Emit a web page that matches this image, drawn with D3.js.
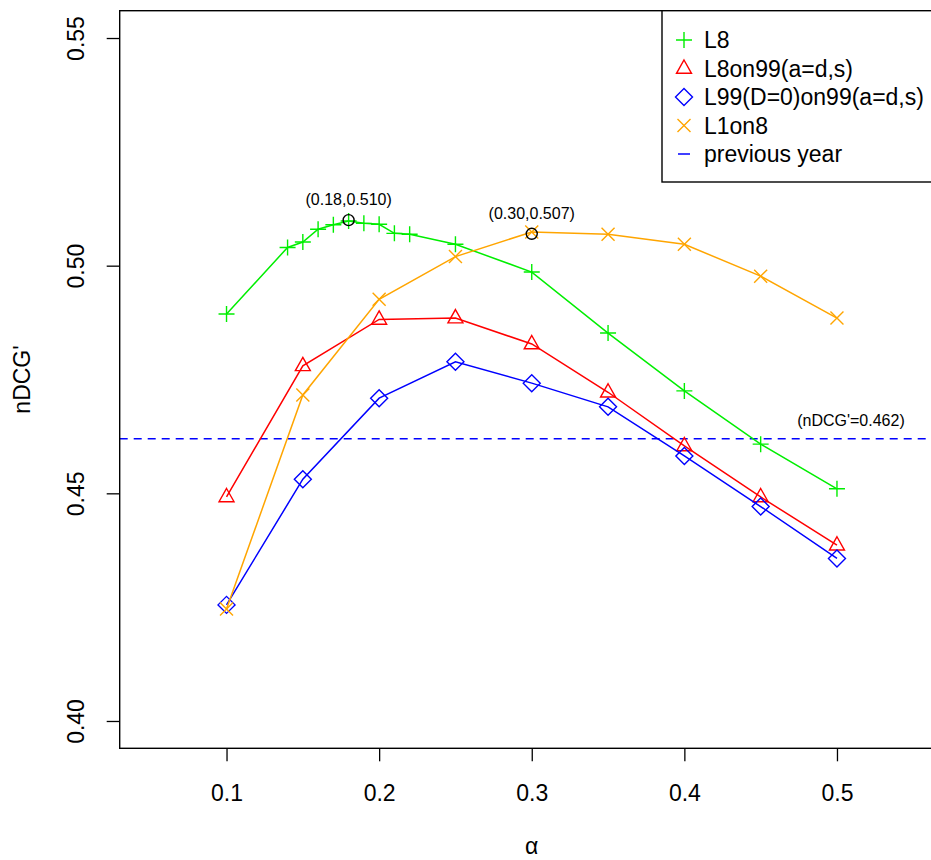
<!DOCTYPE html>
<html>
<head>
<meta charset="utf-8">
<script src="https://cdn.jsdelivr.net/npm/d3@7"></script>
<style>
  body { margin: 0; background: #fff; }
  svg { display: block; font-family: "Liberation Sans", Arial, Helvetica, sans-serif; overflow: hidden; }
</style>
</head>
<body>
<div id="chart"></div>
<script>
// values
const alphaL8 = [0.10, 0.14, 0.15, 0.16, 0.17, 0.18, 0.19, 0.20, 0.21, 0.22, 0.25, 0.30, 0.35, 0.40, 0.45, 0.50];
const valL8 = [0.4894, 0.5040, 0.5052, 0.5080, 0.5090, 0.5098, 0.5093, 0.5091, 0.5071, 0.5069, 0.5047, 0.4986, 0.4852, 0.4725, 0.4608, 0.4510];

const alphaStd = [0.10, 0.15, 0.20, 0.25, 0.30, 0.35, 0.40, 0.45, 0.50];
const valL8on99 = [0.4492, 0.4780, 0.4882, 0.4885, 0.4828, 0.4722, 0.4604, 0.4492, 0.4386];
const valL99on99 = [0.4255, 0.4531, 0.4709, 0.4789, 0.4742, 0.4690, 0.4582, 0.4471, 0.4357];
const valL1on8 = [0.4246, 0.4716, 0.4926, 0.5020, 0.5074, 0.5069, 0.5047, 0.4977, 0.4885];

const previousYear = 0.462;
const xTicks = [0.1, 0.2, 0.3, 0.4, 0.5];
const yTicks = [0.40, 0.45, 0.50, 0.55];
const bestPoints = [[0.18, 0.510, "(0.18,0.510)"], [0.30, 0.507, "(0.30,0.507)"]];
const legendLabels = ["L8", "L8on99(a=d,s)", "L99(D=0)on99(a=d,s)", "L1on8", "previous year"];

const width = 931, height = 860;
const margin = {top: 10.7, left: 119.7, right: -12.8, bottom: 111.7};
const fontBig = 23, fontSmall = 16;

const svg = d3.select("#chart").append("svg")
    .attr("width", width)
    .attr("height", height);

const x = d3.scaleLinear().domain([0.03, 0.57]).range([margin.left, width - margin.right]);
const y = d3.scaleLinear().domain([0.394, 0.556]).range([height - margin.bottom, margin.top]);

const series = [
    {name: legendLabels[0], xs: alphaL8, ys: valL8, color: "#00ee00", shape: "plus"},
    {name: legendLabels[1], xs: alphaStd, ys: valL8on99, color: "#ff0000", shape: "triangle"},
    {name: legendLabels[2], xs: alphaStd, ys: valL99on99, color: "#0000ff", shape: "diamond"},
    {name: legendLabels[3], xs: alphaStd, ys: valL1on8, color: "#ffa500", shape: "cross"}
];

function marker(g, shape, cx, cy, color) {
    let p;
    if (shape === "plus") {
        p = `M${cx - 8},${cy}H${cx + 8}M${cx},${cy - 8}V${cy + 8}`;
    } else if (shape === "cross") {
        p = `M${cx - 6.5},${cy - 6.5}L${cx + 6.5},${cy + 6.5}M${cx - 6.5},${cy + 6.5}L${cx + 6.5},${cy - 6.5}`;
    } else if (shape === "triangle") {
        p = `M${cx},${cy - 8.5}L${cx + 7.5},${cy + 4.8}L${cx - 7.5},${cy + 4.8}Z`;
    } else {
        p = `M${cx},${cy - 8.5}L${cx + 8.5},${cy}L${cx},${cy + 8.5}L${cx - 8.5},${cy}Z`;
    }
    g.append("path").attr("d", p).attr("fill", "none")
        .attr("stroke", color).attr("stroke-width", 1.4);
}

const plot = svg.append("g");

// previous year reference
plot.append("line")
    .attr("x1", x(0.03)).attr("x2", x(0.57))
    .attr("y1", y(previousYear)).attr("y2", y(previousYear))
    .attr("stroke", "#0000ff").attr("stroke-width", 1.4)
    .attr("stroke-dasharray", "8,6");

const line = d3.line().x(d => x(d[0])).y(d => y(d[1]));

series.forEach(s => {
    const pts = s.xs.map((a, i) => [a, s.ys[i]]);
    plot.append("path").datum(pts)
        .attr("d", line).attr("fill", "none")
        .attr("stroke", s.color).attr("stroke-width", 1.5);
    pts.forEach(d => marker(plot, s.shape, x(d[0]), y(d[1]), s.color));
});

// best points
bestPoints.forEach(b => {
    plot.append("circle").attr("cx", x(b[0])).attr("cy", y(b[1])).attr("r", 5.5)
        .attr("fill", "none").attr("stroke", "#000").attr("stroke-width", 1.4);
    plot.append("text").attr("x", x(b[0])).attr("y", y(b[1]) - 15)
        .attr("text-anchor", "middle").attr("font-size", fontSmall).text(b[2]);
});
plot.append("text").attr("x", x(0.5) + 14).attr("y", y(previousYear) - 13)
    .attr("text-anchor", "middle").attr("font-size", fontSmall).text("(nDCG'=0.462)");

// plot frame
svg.append("rect")
    .attr("x", margin.left).attr("y", margin.top)
    .attr("width", width - margin.right - margin.left)
    .attr("height", height - margin.bottom - margin.top)
    .attr("fill", "none").attr("stroke", "#000").attr("stroke-width", 1.4);

// axes
const xAxis = svg.append("g")
    .attr("transform", `translate(0,${height - margin.bottom})`)
    .call(d3.axisBottom(x).tickValues(xTicks).tickSize(13).tickSizeOuter(0).tickFormat(d3.format(".1f")));
xAxis.select(".domain").remove();
xAxis.selectAll(".tick line").attr("stroke", "#000").attr("stroke-width", 1.3);
xAxis.selectAll(".tick text").attr("y", 53).attr("dy", null).attr("font-size", fontBig)
    .attr("font-family", "Liberation Sans, Arial, sans-serif").attr("fill", "#000");

const yAxis = svg.append("g")
    .attr("transform", `translate(${margin.left},0)`)
    .call(d3.axisLeft(y).tickValues(yTicks).tickSize(13).tickSizeOuter(0).tickFormat(d3.format(".2f")));
yAxis.select(".domain").remove();
yAxis.selectAll(".tick line").attr("stroke", "#000").attr("stroke-width", 1.3);
yAxis.selectAll(".tick text")
    .attr("x", null).attr("dy", null)
    .attr("transform", "translate(-44,0) rotate(-90)")
    .attr("text-anchor", "middle").attr("dominant-baseline", "central")
    .attr("font-size", fontBig).attr("fill", "#000")
    .attr("font-family", "Liberation Sans, Arial, sans-serif");

// axis titles
svg.append("text").attr("x", x(0.3)).attr("y", 846)
    .attr("text-anchor", "middle").attr("dominant-baseline", "central")
    .attr("font-size", fontBig).text("α");
svg.append("text").attr("transform", `translate(22,${y(0.475)}) rotate(-90)`)
    .attr("text-anchor", "middle").attr("dominant-baseline", "central")
    .attr("font-size", fontBig).text("nDCG'");

// legend
const legX = 662, legTop = margin.top, legBottom = 182;
svg.append("rect").attr("x", legX).attr("y", legTop)
    .attr("width", width - margin.right - legX).attr("height", legBottom - legTop)
    .attr("fill", "#fff").attr("stroke", "#000").attr("stroke-width", 1.4);
const leg = svg.append("g");
const legRowY = d3.scaleLinear().domain([0, 4]).range([40, 154]);
series.forEach((s, i) => {
    const cy = legRowY(i);
    marker(leg, s.shape, 684, cy, s.color);
    leg.append("text").attr("x", 704).attr("y", cy).attr("dominant-baseline", "central")
        .attr("font-size", fontBig).text(s.name);
});
leg.append("line").attr("x1", 678).attr("x2", 690)
    .attr("y1", legRowY(4)).attr("y2", legRowY(4))
    .attr("stroke", "#0000ff").attr("stroke-width", 1.5);
leg.append("text").attr("x", 704).attr("y", legRowY(4)).attr("dominant-baseline", "central")
    .attr("font-size", fontBig).text(legendLabels[4]);
</script>
</body>
</html>
